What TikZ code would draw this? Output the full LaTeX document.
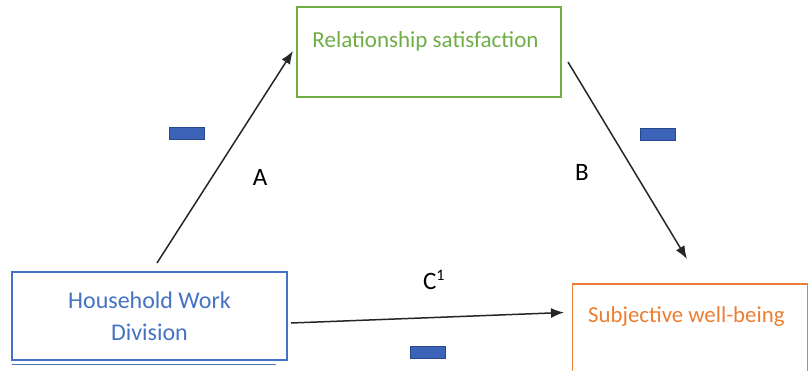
\documentclass[tikz,border=0pt]{standalone}
\usepackage{fontspec}
\setmainfont{Carlito}
\usetikzlibrary{arrows.meta,calc}
\definecolor{cgreen}{RGB}{112,173,71}
\definecolor{cblue}{RGB}{68,114,196}
\definecolor{corange}{RGB}{237,125,49}
\definecolor{cbar}{RGB}{59,100,185}
\definecolor{cbarb}{RGB}{40,70,140}
\tikzset{
  box/.style={draw, line width=1.3pt, minimum width=#1, inner sep=0pt},
  path/.style={line width=1.5pt, draw=black!85, -{Latex[length=13pt,width=10pt]}},
  minus/.style={fill=cbar, draw=cbarb, line width=0.6pt, minimum width=35pt, minimum height=12pt, inner sep=0pt},
  lab/.style={font=\fontsize{25}{25}\selectfont, inner sep=0pt}
}
\begin{document}
\begin{tikzpicture}[x=1pt,y=-1pt]
\useasboundingbox (0,0) rectangle (809,370);
% boxes
\node[box=264pt, draw=cgreen, minimum height=90pt] (rs) at (429,52) {};
\node[text=cgreen, font=\fontsize{23}{23}\selectfont, inner sep=0pt] (rst) at (425.5,41) {Relationship satisfaction};
\node[box=275pt, draw=cblue, minimum height=88pt, align=center, text=cblue,
      font=\fontsize{24}{32}\selectfont] (hwd) at (149.5,316) {Household Work\\Division};
\draw[cblue!80!gray, line width=1.2pt] ($(hwd.south west)+(1,3.5)$) coordinate (s1) -- ($(hwd.south east)+(-12,3.5)$) coordinate (s2);
\node[box=235pt, draw=corange, minimum height=100pt] (swb) at (690,334) {};
\node[text=corange, font=\fontsize{22.8}{23}\selectfont, inner sep=0pt, anchor=west] (swbt) at (588,317) {Subjective well-being};
% arrow end points
\coordinate (a1) at (157,263);
\coordinate (a2) at (293,51);
\coordinate (b1) at (568,62);
\coordinate (b2) at (687,259);
\coordinate (c1) at (291,323);
\coordinate (c2) at (564,312.5);
\draw[path] (a1) -- (a2);
\draw[path] (b1) -- (b2);
\draw[path] (c1) -- (c2);
% minus signs
\node[minus] (ma) at (187,133) {};
\node[minus] (mb) at (658,134) {};
\node[minus] (mc) at (428,352) {};
% labels
\node[lab] (la) at (260,177) {A};
\node[lab] (lb) at (582,172) {B};
\node[lab] (lc) at (434,280) {C\textsuperscript{\fontsize{16}{16}\selectfont 1}};
\end{tikzpicture}
\end{document}
